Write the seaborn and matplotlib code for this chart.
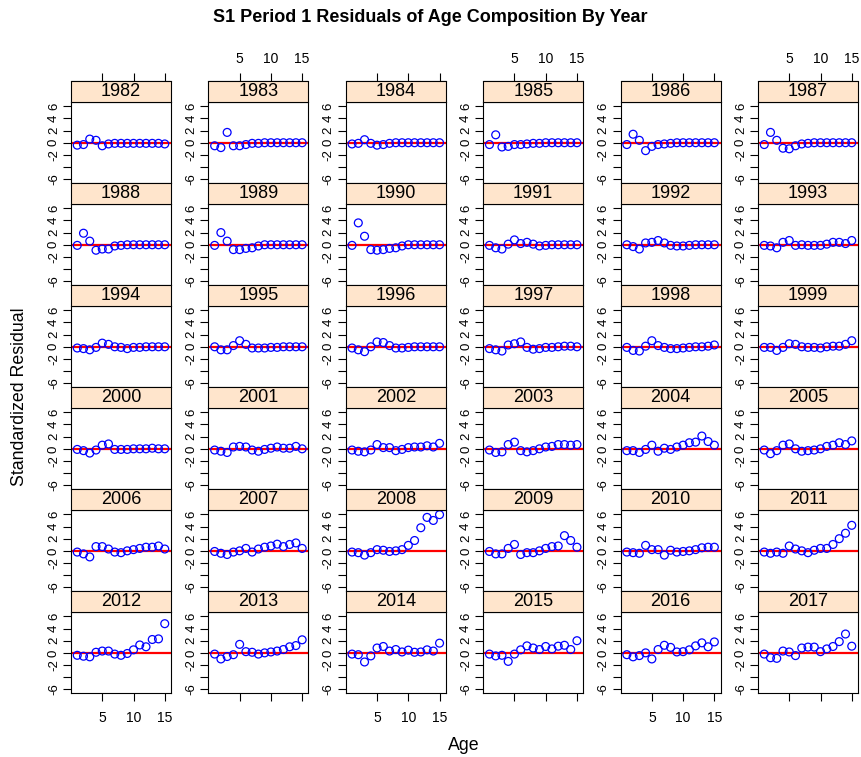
import matplotlib
matplotlib.use("Agg")
import matplotlib.pyplot as plt
import pandas as pd
import seaborn as sns
from matplotlib.patches import Rectangle

# ---------------- data ----------------
ages = list(range(1, 16))
years = list(range(1982, 2018))

res_1982 = [-0.4, -0.3, 0.6, 0.4, -0.5, -0.2, -0.1, -0.1, -0.1, -0.1, -0.1, -0.1, -0.1, -0.1, -0.2]
res_1983 = [-0.5, -0.8, 1.7, -0.5, -0.5, -0.3, -0.1, -0.1, 0, 0, 0, 0, 0, 0, 0]
res_1984 = [-0.2, -0.1, 0.5, -0.1, -0.4, -0.3, -0.1, 0, 0, 0, 0, 0, 0, 0, 0]
res_1985 = [-0.3, 1.3, -0.7, -0.6, -0.3, -0.3, -0.2, -0.1, -0.1, 0, 0, 0, 0, 0, 0]
res_1986 = [-0.3, 1.4, 0.4, -1.3, -0.6, -0.3, -0.2, -0.1, 0, 0, 0, 0, 0, 0, 0]
res_1987 = [-0.3, 1.7, 0.4, -0.9, -1.0, -0.5, -0.2, -0.1, 0, 0, 0, 0, 0, 0, 0]
res_1988 = [-0.1, 1.9, 0.6, -0.9, -0.7, -0.7, -0.2, -0.1, 0, 0, 0, 0, 0, 0, 0]
res_1989 = [-0.1, 2.0, 0.6, -0.8, -0.8, -0.6, -0.5, -0.2, 0, 0, 0, 0, 0, 0, 0]
res_1990 = [-0.1, 3.6, 1.4, -0.8, -0.9, -0.8, -0.6, -0.5, -0.2, 0, 0, 0, 0, 0, 0]
res_1991 = [-0.1, -0.5, -0.7, 0.1, 0.8, 0.2, 0.4, 0.1, -0.2, -0.1, 0, 0, 0, 0, 0]
res_1992 = [0, -0.3, -0.7, 0.3, 0.4, 0.7, 0.3, -0.1, -0.2, -0.2, -0.1, 0, 0, 0, 0]
res_1993 = [-0.1, -0.2, -0.5, 0.4, 0.7, -0.1, 0, -0.1, -0.1, -0.1, 0.1, 0.4, 0.4, 0.2, 0.7]
res_1994 = [-0.2, -0.3, -0.5, -0.1, 0.6, 0.4, 0, -0.1, -0.3, -0.1, -0.1, 0, 0, 0, 0]
res_1995 = [0, -0.5, -0.5, 0.2, 1.0, 0.4, -0.2, -0.2, -0.2, -0.1, -0.1, 0, 0, 0, 0]
res_1996 = [-0.2, -0.5, -0.8, 0, 0.8, 0.7, 0.2, -0.2, -0.2, -0.1, 0, 0, 0, 0, 0]
res_1997 = [-0.3, -0.5, -0.7, 0.3, 0.5, 0.8, -0.1, -0.4, -0.3, -0.1, -0.1, 0, 0.1, 0.1, 0]
res_1998 = [-0.1, -0.6, -0.7, 0.1, 1.0, 0.2, -0.1, -0.3, -0.3, -0.2, -0.1, 0, 0, 0.1, 0.3]
res_1999 = [-0.1, -0.1, -0.6, -0.1, 0.5, 0.4, 0, -0.1, -0.1, -0.2, 0, 0.1, 0.1, 0.4, 1.0]
res_2000 = [-0.1, -0.3, -0.7, -0.2, 0.6, 0.8, -0.1, -0.1, -0.1, 0, 0, 0, 0.1, 0, 0]
res_2001 = [-0.2, -0.4, -0.6, 0.3, 0.4, 0.3, -0.2, -0.4, -0.1, 0.1, 0.3, 0.1, 0.1, 0.4, 0]
res_2002 = [-0.2, -0.4, -0.5, -0.2, 0.7, 0.2, 0.2, -0.3, -0.1, 0.2, 0.3, 0.3, 0.5, 0.3, 0.9]
res_2003 = [-0.2, -0.6, -0.5, 0.7, 1.1, -0.3, -0.5, -0.3, 0, 0.3, 0.4, 0.7, 0.7, 0.6, 0.7]
res_2004 = [-0.3, -0.3, -0.6, -0.1, 0.6, -0.4, 0.1, -0.1, 0.3, 0.6, 1.0, 1.1, 2.1, 1.2, 0.6]
res_2005 = [-0.2, -0.8, -0.3, 0.6, 0.8, 0, -0.4, -0.3, -0.2, 0, 0.4, 0.6, 1.0, 0.7, 1.3]
res_2006 = [-0.2, -0.5, -1.0, 0.7, 0.7, 0.3, -0.2, -0.3, 0, 0.2, 0.4, 0.6, 0.6, 0.8, 0.3]
res_2007 = [-0.1, -0.4, -0.6, -0.2, 0, 0.4, -0.2, 0.3, 0.6, 0.8, 1.1, 0.7, 1.05, 1.3, 0.4]
res_2008 = [-0.2, -0.3, -0.7, -0.3, 0.2, 0.1, -0.1, 0, 0.2, 0.9, 1.7, 3.8, 5.5, 5.0, 5.95]
res_2009 = [-0.1, -0.5, -0.5, 0.4, 1.05, -0.6, -0.3, -0.3, 0, 0.4, 0.7, 0.8, 2.5, 1.7, 0.6]
res_2010 = [-0.2, -0.3, -0.4, 0.9, 0.2, 0.2, -0.7, 0.1, -0.2, -0.1, 0, 0.2, 0.5, 0.6, 0.6]
res_2011 = [-0.2, -0.4, -0.2, -0.4, 0.8, 0.3, 0, -0.3, 0.1, 0.4, 0.4, 1.05, 2.0, 2.9, 4.2]
res_2012 = [-0.4, -0.55, -0.65, 0.1, 0.3, 0.3, -0.2, -0.4, -0.1, 0.5, 1.3, 1.0, 2.2, 2.3, 4.8]
res_2013 = [-0.2, -1.0, -0.6, -0.3, 1.4, 0.2, 0.1, -0.2, 0, 0.15, 0.3, 0.55, 1.0, 1.2, 2.15]
res_2014 = [-0.2, -0.3, -1.5, -0.5, 0.8, 1.05, 0.3, 0.55, 0.15, 0.45, 0.1, 0.15, 0.5, 0.3, 1.6]
res_2015 = [-0.2, -0.5, -0.4, -1.4, -0.2, 0.5, 1.15, 0.8, 0.55, 1.05, 0.65, 1.1, 1.25, 0.55, 2.0]
res_2016 = [-0.3, -0.65, -0.45, 0, -1.0, 0.55, 1.25, 0.9, 0.15, 0.2, 0.5, 1.15, 1.65, 1.0, 1.8]
res_2017 = [-0.2, -0.8, -0.9, 0.3, 0.15, -0.45, 0.8, 0.95, 0.95, 0.2, 0.65, 1.05, 1.85, 3.1, 1.1]

residuals = [res_1982, res_1983, res_1984, res_1985, res_1986, res_1987,
             res_1988, res_1989, res_1990, res_1991, res_1992, res_1993,
             res_1994, res_1995, res_1996, res_1997, res_1998, res_1999,
             res_2000, res_2001, res_2002, res_2003, res_2004, res_2005,
             res_2006, res_2007, res_2008, res_2009, res_2010, res_2011,
             res_2012, res_2013, res_2014, res_2015, res_2016, res_2017]

y_ticks = [-6, -4, -2, 0, 2, 4, 6]
y_tick_labels = ["-6", "", "-2", "0", "2", "4", "6"]
x_ticks = [5, 10, 15]
x_tick_labels = ["5", "10", "15"]

title = "S1 Period 1 Residuals of Age Composition By Year"

rows = []
for yr, vals in zip(years, residuals):
    for a, v in zip(ages, vals):
        rows.append((yr, a, v))
df = pd.DataFrame(rows, columns=["Year", "Age", "Residual"])

# ---------------- plot ----------------
sns.set_theme(style="white")
plt.rcParams["font.family"] = ["Liberation Sans", "DejaVu Sans"]

ncol = 6
g = sns.FacetGrid(df, col="Year", col_wrap=ncol, sharex=False, sharey=False,
                  height=1.2, aspect=1.2, despine=False)
g.map_dataframe(sns.scatterplot, x="Age", y="Residual", s=32, zorder=3)

W, H = 861, 757
fig = g.figure
fig.set_size_inches(W / 100, H / 100)

strip_frac = 21 / 81.0
n = len(g.axes.flat)
nrows = (n + ncol - 1) // ncol

for i, ax in enumerate(g.axes.flat):
    r, c = divmod(i, ncol)
    yr = years[i]
    for coll in ax.collections:
        coll.set_facecolor("none")
        coll.set_edgecolor("#0000FF")
        coll.set_linewidth(0.9)
    ax.axhline(0, color="#FF0000", lw=1.6, zorder=2)
    ax.set_xlim(0, 16)
    ax.set_ylim(-6.6, 6.7)
    ax.set_title("")
    ax.set_xlabel("")
    ax.set_ylabel("")
    for sp in ax.spines.values():
        sp.set_color("black")
        sp.set_linewidth(0.8)
    ax.set_yticks(y_ticks)
    ax.set_yticklabels(y_tick_labels, rotation=90, va="center")
    ax.tick_params(axis="y", left=True, right=False, labelleft=True,
                   length=6, width=0.8, color="black", labelsize=9.5, pad=2,
                   labelcolor="black")
    # strip
    ax.add_patch(Rectangle((0, 1), 1, strip_frac, transform=ax.transAxes,
                           facecolor="#FFE5CC", edgecolor="black", lw=0.8,
                           clip_on=False, zorder=5))
    ax.text(0.5, 1 + strip_frac / 2, str(yr), transform=ax.transAxes,
            ha="center", va="center", fontsize=13, color="black", zorder=6)
    # x axis
    if r == nrows - 1:
        ax.set_xticks(x_ticks)
        ax.set_xticklabels(x_tick_labels if c % 2 == 0 else ["", "", ""])
        ax.tick_params(axis="x", bottom=True, top=False, length=6, width=0.8,
                       color="black", labelsize=10, pad=7, labelcolor="black")
    else:
        ax.set_xticks([])
    if r == 0:
        sec = ax.secondary_xaxis(1 + strip_frac)
        sec.set_xticks(x_ticks)
        sec.set_xticklabels(x_tick_labels if c % 2 == 1 else ["", "", ""])
        sec.tick_params(axis="x", length=6, width=0.8, color="black",
                        labelsize=10, pad=5, labelcolor="black")
        sec.spines["top"].set_linewidth(0.8)
        sec.spines["top"].set_color("black")

fig.subplots_adjust(left=71 / W, right=858 / W, bottom=1 - 693 / H, top=1 - 102 / H,
                    wspace=37.4 / 100, hspace=21.2 / 81)

fig.text(0.5, 1 - 18 / H, title, ha="center", va="center", fontsize=13,
         fontweight="bold", color="black")
fig.text(464 / W, 1 - 745 / H, "Age", ha="center", va="center", fontsize=12.8,
         color="black")
fig.text(20 / W, 1 - 397 / H, "Standardized Residual", ha="center", va="center",
         rotation=90, fontsize=12.8, color="black")

fig.savefig("out.png", dpi=100)
